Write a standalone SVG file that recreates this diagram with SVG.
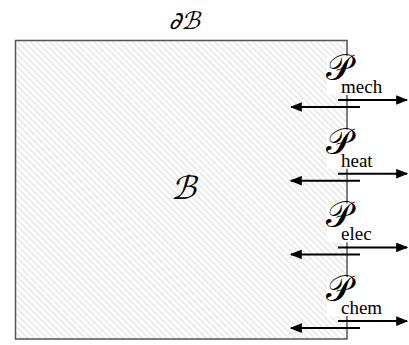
<svg xmlns="http://www.w3.org/2000/svg" width="409" height="345" viewBox="0 0 409 345">
<defs>
<pattern id="hatch" patternUnits="userSpaceOnUse" width="4.5" height="4.5" patternTransform="rotate(-45)">
<rect width="4.5" height="4.5" fill="#ffffff"/>
<rect x="0" y="0" width="2" height="4.5" fill="#ececec"/>
</pattern>
<marker id="ah" viewBox="0 0 10 8" refX="9" refY="4" markerWidth="6" markerHeight="4.8" orient="auto-start-reverse" markerUnits="strokeWidth">
<path d="M0,0 L10,4 L0,8 Z" fill="#000"/>
</marker>
<style>
.math{font-family:"DejaVu Sans","Liberation Serif",serif;fill:#000}
.cal{font-family:"DejaVu Serif","Liberation Serif",serif;fill:#000}
.sub{font-family:"Liberation Serif","DejaVu Serif",serif;font-size:19px;fill:#000}
.arr{stroke:#000;stroke-width:2;fill:none;marker-end:url(#ah)}
.bg{fill:#fff}
</style>
</defs>
<g id="body">
<rect x="15.5" y="40.5" width="331.5" height="298.5" fill="url(#hatch)" stroke="#555" stroke-width="1.5"/>
<text class="math" transform="translate(183,199) skewX(-16)" x="0" y="0" font-size="32" text-anchor="middle">ℬ</text>
</g>
<g id="boundary-label">
<text class="math" transform="translate(184,29) skewX(-16)" x="0" y="0" font-size="24" text-anchor="middle">∂ℬ</text>
</g>
<g id="p-mech">
<rect class="bg" x="327" y="56" width="70" height="39"/>
<text class="cal" x="326" y="80" font-size="36">𝒫</text>
<text class="sub" x="341" y="93">mech</text>
</g>
<g id="p-heat">
<rect class="bg" x="327" y="129.7" width="70" height="39"/>
<text class="cal" x="326" y="153.7" font-size="36">𝒫</text>
<text class="sub" x="341" y="166.7">heat</text>
</g>
<g id="p-elec">
<rect class="bg" x="327" y="203.4" width="70" height="39"/>
<text class="cal" x="326" y="227.4" font-size="36">𝒫</text>
<text class="sub" x="341" y="240.4">elec</text>
</g>
<g id="p-chem">
<rect class="bg" x="327" y="277.1" width="70" height="39"/>
<text class="cal" x="326" y="301.1" font-size="36">𝒫</text>
<text class="sub" x="341" y="314.1">chem</text>
</g>
<g id="connectors">
<line class="arr" x1="338" y1="100" x2="407" y2="100"/>
<line class="arr" x1="360" y1="107" x2="291" y2="107"/>
<line class="arr" x1="338" y1="173.7" x2="407" y2="173.7"/>
<line class="arr" x1="360" y1="180.7" x2="291" y2="180.7"/>
<line class="arr" x1="338" y1="247.4" x2="407" y2="247.4"/>
<line class="arr" x1="360" y1="254.4" x2="291" y2="254.4"/>
<line class="arr" x1="338" y1="321.1" x2="407" y2="321.1"/>
<line class="arr" x1="360" y1="328.1" x2="291" y2="328.1"/>
</g>
</svg>
